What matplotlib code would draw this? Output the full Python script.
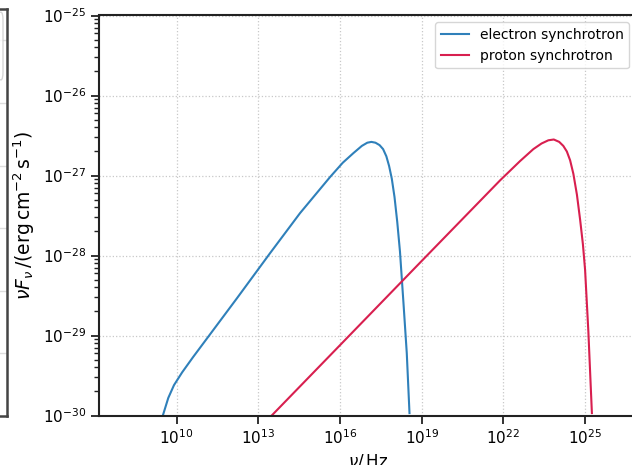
import numpy as np
import matplotlib
matplotlib.use("Agg")
import matplotlib.pyplot as plt
from matplotlib.patches import FancyBboxPatch

# Spectral energy distributions, log10(nu / Hz) and log10(nu F_nu / erg cm^-2 s^-1)
electron_lognu = [9.49, 9.69, 9.90, 10.20, 10.60, 12.20, 13.43, 14.53, 15.63, 16.10,
                  16.49, 16.80, 17.00, 17.15, 17.30, 17.45, 17.58, 17.70, 17.80,
                  17.90, 18.00, 18.10, 18.20, 18.33, 18.45, 18.55]
electron_logflux = [-30.0, -29.78, -29.62, -29.46, -29.27, -28.54, -27.97, -27.47, -27.02, -26.84,
                    -26.72, -26.63, -26.59, -26.58, -26.59, -26.62, -26.67, -26.76, -26.88,
                    -27.04, -27.27, -27.58, -27.95, -28.60, -29.22, -29.97]

proton_lognu = [13.49, 16.20, 19.05, 21.88, 22.61, 23.10, 23.40, 23.65, 23.85, 24.05,
                24.20, 24.33, 24.45, 24.57, 24.70, 24.82, 24.92, 25.00, 25.12, 25.25]
proton_logflux = [-30.0, -29.05, -28.05, -27.06, -26.82, -26.67, -26.60, -26.56, -26.55, -26.58,
                  -26.63, -26.70, -26.81, -26.98, -27.24, -27.56, -27.86, -28.18, -28.95, -29.97]

series_labels = ["electron synchrotron", "proton synchrotron"]
series_colors = ["#2f80ba", "#d81f4f"]

x_major_exponents = [10, 13, 16, 19, 22, 25]

W, H = 632, 465
fig = plt.figure(figsize=(W / 100, H / 100), dpi=100)


def px(x0, y_top, x1, y_bot):
    return [x0 / W, 1 - y_bot / H, (x1 - x0) / W, (y_bot - y_top) / H]


# neighbouring panel on the left (only its right edge falls inside the figure)
ax0 = fig.add_axes(px(-93, 9, 7, 416))
ax0.set_xlim(0, 1)
ax0.set_ylim(-1.0, 5.5)
ax0.set_yticks(range(6))
ax0.set_xticks([])
ax0.tick_params(left=False, labelleft=False)
ax0.grid(True, axis="y", color="#dddddd", linewidth=1.0)
for s in ax0.spines.values():
    s.set_color("#444444")
    s.set_linewidth(1.8)
ax0.add_patch(FancyBboxPatch((0.3, 0.826), 0.66, 0.166,
                             boxstyle="round,pad=0,rounding_size=0.02",
                             transform=ax0.transAxes, facecolor="white",
                             edgecolor="#cccccc", linewidth=1.0, alpha=0.8, zorder=5))

# main panel
ax = fig.add_axes(px(99.3, 15.5, 636, 415.5))
ax.set_xscale("log")
ax.set_yscale("log")

ax.plot(10.0 ** np.array(electron_lognu), 10.0 ** np.array(electron_logflux),
        color=series_colors[0], lw=1.5, label=series_labels[0])
ax.plot(10.0 ** np.array(proton_lognu), 10.0 ** np.array(proton_logflux),
        color=series_colors[1], lw=1.5, label=series_labels[1])

ax.set_xlim(10 ** 7.156, 10 ** 26.87)
ax.set_ylim(1e-30, 1e-25)
ax.set_xticks([10.0 ** e for e in x_major_exponents])
ax.xaxis.set_minor_locator(matplotlib.ticker.NullLocator())

ax.grid(True, which="major", linestyle=":", color="#c8c8c8", linewidth=0.9)
ax.tick_params(axis="both", which="major", labelsize=11, length=6, width=1.3,
               direction="out", color="#222222")
ax.tick_params(axis="y", which="minor", length=3.5, width=1.0, color="#222222")
for s in ax.spines.values():
    s.set_color("#222222")
    s.set_linewidth(1.5)

ax.set_xlabel(r"$\nu/\,\mathrm{Hz}$", fontsize=12, labelpad=4)
ax.set_ylabel(r"$\nu F_\nu\,/(\mathrm{erg\,cm^{-2}\,s^{-1}})$", fontsize=13.5, labelpad=4)

ax.legend(loc="upper right", fontsize=10, frameon=True, framealpha=0.8,
          edgecolor="#cccccc")

fig.savefig("out.png", dpi=100)
